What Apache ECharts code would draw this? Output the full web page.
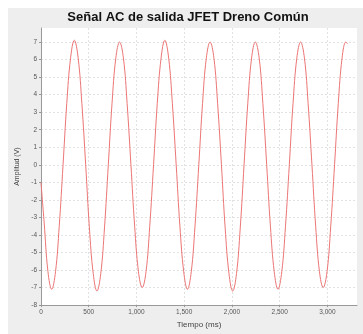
<!DOCTYPE html>
<html>
<head>
<meta charset="utf-8">
<script src="https://cdn.jsdelivr.net/npm/echarts@6/dist/echarts.min.js"></script>
<style>
  html, body { margin: 0; padding: 0; background: #fff; }
  #chart { width: 363px; height: 334px; }
</style>
</head>
<body>
<div id="chart"></div>
<script>
// tiempo (ms) y amplitud (V)
const tiempo = [
  0, 33, 73, 112, 152, 191, 231, 270, 310, 349, 389, 428, 468, 507, 547,
  586, 626, 665, 705, 744, 784, 823, 863, 902, 942, 981, 1021,
  1060, 1100, 1139, 1179, 1218, 1258, 1297, 1337, 1376, 1416, 1455, 1495,
  1534, 1574, 1613, 1653, 1692, 1732, 1771, 1811, 1850, 1890, 1929, 1969,
  2008, 2048, 2087, 2127, 2166, 2206, 2245, 2285, 2324, 2364, 2403, 2443,
  2482, 2522, 2561, 2601, 2640, 2680, 2719, 2759, 2798, 2838, 2877, 2917,
  2956, 2996, 3035, 3075, 3114, 3154, 3193, 3211
]
const amplitud = [
  -1.0, -3.3, -6.1, -7.1, -6.1, -3.5, 0, 3.5, 6.1, 7.1, 6.1, 3.5, 0, -3.6, -6.2,
  -7.2, -6.2, -3.6, 0, 3.5, 6.1, 7.0, 6.1, 3.5, 0, -3.5, -6.1,
  -7.0, -6.1, -3.5, 0, 3.5, 6.1, 7.1, 6.1, 3.5, 0, -3.5, -6.1,
  -7.1, -6.1, -3.5, 0, 3.5, 6.1, 7.0, 6.1, 3.5, 0, -3.6, -6.2,
  -7.2, -6.2, -3.6, 0, 3.5, 6.1, 7.0, 6.1, 3.5, 0, -3.5, -6.1,
  -7.1, -6.1, -3.5, 0, 3.5, 6.1, 7.0, 6.1, 3.5, 0, -3.5, -6.1,
  -7.0, -6.1, -3.5, 0, 3.5, 6.1, 7.0, 6.9
]

const serie = tiempo.map((t, i) => [t, amplitud[i]])

const myChart = echarts.init(document.getElementById('chart'))

const labelStyle = {
  fontFamily: 'Liberation Sans',
  fontSize: 6.5,
  color: '#555'
}

myChart.setOption({
  animation: false,
  backgroundColor: '#fff',
  graphic: [{
    type: 'rect',
    z: -10,
    shape: { x: 8, y: 8, width: 355, height: 326 },
    style: { fill: '#eeeeee' }
  }],
  title: {
    text: 'Señal AC de salida JFET Dreno Común',
    left: 188,
    textAlign: 'center',
    top: 11,
    padding: 0,
    textStyle: {
      fontFamily: 'Liberation Sans',
      fontSize: 13,
      fontWeight: 'bold',
      color: '#111'
    }
  },
  grid: {
    left: 41,
    right: 6,
    top: 28,
    bottom: 23,
    show: true,
    backgroundColor: '#fff',
    borderWidth: 0
  },
  xAxis: {
    type: 'value',
    min: 0,
    max: 3310,
    interval: 500,
    name: 'Tiempo (ms)',
    nameLocation: 'middle',
    nameGap: 14,
    nameTextStyle: { fontFamily: 'Liberation Sans', fontSize: 8, color: '#444' },
    axisLine: { show: true, onZero: false, lineStyle: { color: '#999', width: 1 } },
    axisTick: { show: true, length: 2, lineStyle: { color: '#999' } },
    axisLabel: {
      ...labelStyle,
      margin: 4,
      showMaxLabel: false,
      formatter: v => v.toLocaleString('en-US')
    },
    splitLine: {
      show: true,
      showMaxLine: false,
      lineStyle: { color: '#e2e2e2', type: [2, 2], width: 1 }
    }
  },
  yAxis: {
    type: 'value',
    min: -8,
    max: 7.8,
    interval: 1,
    name: 'Amplitud (V)',
    nameLocation: 'middle',
    nameGap: 15,
    nameTextStyle: { fontFamily: 'Liberation Sans', fontSize: 7, color: '#444' },
    axisLine: { show: true, onZero: false, lineStyle: { color: '#999', width: 1 } },
    axisTick: { show: true, length: 2, lineStyle: { color: '#999' } },
    axisLabel: {
      ...labelStyle,
      margin: 4,
      showMaxLabel: false,
      formatter: v => (Number.isInteger(v) ? String(v) : '')
    },
    splitLine: {
      show: true,
      showMaxLine: false,
      lineStyle: { color: '#e2e2e2', type: [2, 2], width: 1 }
    }
  },
  series: [{
    type: 'line',
    data: serie,
    showSymbol: false,
    smooth: 0.4,
    lineStyle: { color: '#ec7575', width: 1 }
  }]
})
</script>
</body>
</html>
